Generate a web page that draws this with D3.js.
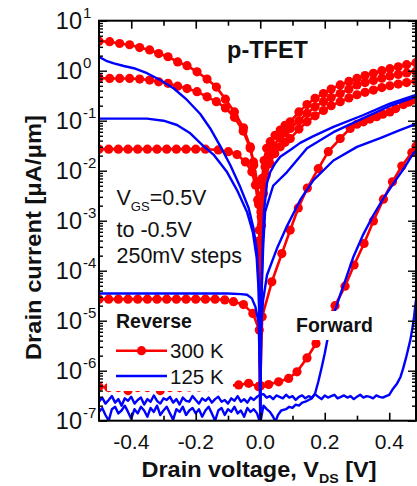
<!DOCTYPE html>
<html><head><meta charset="utf-8">
<script src="https://cdn.jsdelivr.net/npm/d3@7"></script>
<style>
html,body{margin:0;padding:0;background:#fff;}
svg{display:block;font-family:"Liberation Sans",Arial,sans-serif;}
</style></head><body>
<svg id="chart" width="417" height="486"></svg>
<script>
// ---------- axis ticks / labels ----------
const xMajorTicks = [-0.4, -0.2, 0, 0.2, 0.4];
const xMinorTicks = [-0.3, -0.1, 0.1, 0.3];
const xTickLabels = ["-0.4", "-0.2", "0.0", "0.2", "0.4"];
const yExponents = [1, 0, -1, -2, -3, -4, -5, -6, -7];

// ---------- 300 K (red, markers): [V_DS (V), I_D (uA/um)] ----------
const red1 = [[-0.50,3.9],[-0.467,3.8],[-0.436,3.5],[-0.405,3.3],[-0.374,2.9],[-0.343,2.6],[-0.315,2.2],[-0.286,1.9],[-0.256,1.5],[-0.227,1.26],[-0.196,0.95],[-0.165,0.68],[-0.136,0.47],[-0.108,0.27],[-0.080,0.15],[-0.052,0.072],[-0.031,0.030],[-0.021,0.015],[-0.010,6.0e-3],[-0.005,2.4e-3],[-0.002,4e-4],[0,5e-7],[0.002,1.5e-3],[0.006,7e-3],[0.012,0.016],[0.02,0.028],[0.031,0.038],[0.046,0.051],[0.062,0.065],[0.077,0.081],[0.093,0.095],[0.12,0.15],[0.145,0.21],[0.17,0.28],[0.196,0.35],[0.22,0.43],[0.248,0.52],[0.275,0.61],[0.30,0.70],[0.325,0.80],[0.351,0.89],[0.377,1.0],[0.402,1.1],[0.428,1.2],[0.454,1.32],[0.483,1.45]];
const red2 = [[-0.50,0.71],[-0.467,0.70],[-0.436,0.70],[-0.405,0.70],[-0.374,0.68],[-0.343,0.65],[-0.315,0.60],[-0.286,0.56],[-0.256,0.49],[-0.227,0.44],[-0.196,0.38],[-0.165,0.30],[-0.136,0.24],[-0.108,0.18],[-0.080,0.117],[-0.053,0.062],[-0.031,0.028],[-0.020,0.013],[-0.011,5.2e-3],[-0.005,2.1e-3],[-0.002,3e-4],[0,5e-7],[0.003,1.2e-3],[0.008,5e-3],[0.015,0.012],[0.025,0.020],[0.04,0.031],[0.06,0.045],[0.077,0.057],[0.093,0.070],[0.12,0.10],[0.145,0.14],[0.17,0.19],[0.196,0.24],[0.22,0.29],[0.248,0.35],[0.275,0.43],[0.30,0.52],[0.325,0.58],[0.351,0.64],[0.377,0.71],[0.402,0.78],[0.428,0.84],[0.454,0.90],[0.483,0.97]];
const red3 = [[-0.50,0.027],[-0.47,0.027],[-0.44,0.027],[-0.41,0.027],[-0.38,0.027],[-0.35,0.027],[-0.32,0.027],[-0.29,0.027],[-0.26,0.027],[-0.23,0.027],[-0.20,0.027],[-0.17,0.027],[-0.13,0.026],[-0.099,0.024],[-0.072,0.021],[-0.046,0.015],[-0.026,9.5e-3],[-0.015,5.2e-3],[-0.008,2.6e-3],[-0.003,6.5e-4],[0,5e-7],[0.004,8e-4],[0.01,3.5e-3],[0.018,8e-3],[0.03,0.014],[0.045,0.022],[0.062,0.030],[0.077,0.037],[0.093,0.044],[0.12,0.068],[0.145,0.095],[0.17,0.125],[0.196,0.16],[0.22,0.20],[0.248,0.24],[0.275,0.285],[0.30,0.33],[0.325,0.37],[0.351,0.41],[0.377,0.46],[0.402,0.50],[0.428,0.54],[0.454,0.58],[0.483,0.62]];
const red4 = [[-0.50,2.7e-5],[-0.47,2.7e-5],[-0.44,2.7e-5],[-0.41,2.7e-5],[-0.38,2.7e-5],[-0.35,2.7e-5],[-0.32,2.7e-5],[-0.29,2.7e-5],[-0.26,2.7e-5],[-0.23,2.7e-5],[-0.20,2.7e-5],[-0.17,2.7e-5],[-0.14,2.7e-5],[-0.11,2.6e-5],[-0.083,2.4e-5],[-0.052,2.1e-5],[-0.023,1.4e-5],[-0.003,6.5e-6],[0,5e-7],[0.006,1.2e-5],[0.036,6.0e-5],[0.067,2.2e-4],[0.093,6.5e-4],[0.118,1.8e-3],[0.146,4.5e-3],[0.18,0.011],[0.211,0.024],[0.248,0.044],[0.279,0.070],[0.30,0.085],[0.32,0.095],[0.34,0.108],[0.361,0.12],[0.38,0.135],[0.402,0.15],[0.42,0.175],[0.444,0.21],[0.46,0.235],[0.475,0.26],[0.483,0.27]];
const red5 = [[-0.50,4.8e-7],[-0.47,4.6e-7],[-0.44,4.6e-7],[-0.41,4.0e-7],[-0.38,4.6e-7],[-0.35,4.6e-7],[-0.31,4.0e-7],[-0.28,4.6e-7],[-0.25,4.6e-7],[-0.22,4.7e-7],[-0.19,4.7e-7],[-0.16,4.8e-7],[-0.13,4.8e-7],[-0.10,5.0e-7],[-0.067,5.2e-7],[-0.036,5.6e-7],[-0.005,4.8e-7],[0.026,5.3e-7],[0.057,6.0e-7],[0.088,7.0e-7],[0.114,9.5e-7],[0.145,1.8e-6],[0.173,3.5e-6],[0.20,8e-6],[0.232,2.0e-5],[0.263,4.9e-5],[0.291,1.3e-4],[0.322,3.5e-4],[0.351,9.9e-4],[0.382,2.7e-3],[0.41,6.0e-3],[0.439,0.0124],[0.47,0.023],[0.483,0.031]];

// ---------- 125 K (blue, lines) ----------
const blue1 = [[-0.50,1.9],[-0.475,1.55],[-0.454,1.4],[-0.423,1.24],[-0.392,1.12],[-0.351,0.89],[-0.31,0.65],[-0.268,0.44],[-0.227,0.26],[-0.186,0.136],[-0.155,0.070],[-0.124,0.031],[-0.093,0.013],[-0.062,4.7e-3],[-0.036,1.8e-3],[-0.021,7.1e-4],[-0.010,2.4e-4],[-0.005,5.7e-5],[-0.0015,6.5e-6],[0,8e-8],[0.003,2.6e-5],[0.008,4.1e-4],[0.012,1.6e-3],[0.021,5.7e-3],[0.031,9.4e-3],[0.046,0.014],[0.062,0.019],[0.093,0.026],[0.124,0.036],[0.165,0.049],[0.227,0.075],[0.32,0.13],[0.402,0.22],[0.483,0.33]];
const blue2 = [[-0.50,0.11],[-0.42,0.11],[-0.351,0.11],[-0.30,0.10],[-0.258,0.082],[-0.217,0.056],[-0.176,0.031],[-0.145,0.021],[-0.103,9.4e-3],[-0.072,4.1e-3],[-0.041,1.5e-3],[-0.023,5.9e-4],[-0.011,1.8e-4],[-0.005,4.1e-5],[-0.0012,4.1e-6],[0,8e-8],[0.004,3e-5],[0.009,3e-4],[0.015,1.5e-3],[0.04,5e-3],[0.083,9.4e-3],[0.145,0.028],[0.227,0.059],[0.32,0.113],[0.402,0.197],[0.483,0.30]];
const blue3 = [[-0.50,3.5e-5],[-0.40,3.5e-5],[-0.30,3.5e-5],[-0.20,3.5e-5],[-0.10,3.5e-5],[-0.06,3.4e-5],[-0.041,3.3e-5],[-0.026,2.8e-5],[-0.015,1.9e-5],[-0.005,9e-6],[-0.001,1e-6],[0,8e-8],[0.0015,6.5e-6],[0.009,2.6e-5],[0.021,8.2e-5],[0.052,2.8e-4],[0.083,7.8e-4],[0.124,2.6e-3],[0.165,6.5e-3],[0.227,0.016],[0.30,0.030],[0.372,0.045],[0.433,0.065],[0.483,0.086]];
// noise-floor curves
const noiseV = [-0.50,-0.49,-0.48,-0.47,-0.46,-0.45,-0.44,-0.43,-0.42,-0.41,-0.40,-0.39,-0.38,-0.37,-0.36,-0.35,-0.34,-0.33,-0.32,-0.31,-0.30,-0.29,-0.28,-0.27,-0.26,-0.25,-0.24,-0.23,-0.22,-0.21,-0.20,-0.19,-0.18,-0.17,-0.16,-0.15,-0.14,-0.13,-0.12,-0.11,-0.10,-0.09,-0.08,-0.07,-0.06,-0.05,-0.04,-0.03,-0.02,-0.01];
const blue4Rev = [1.5e-7,1.8e-7,1.3e-7,1.0e-7,1.7e-7,1.9e-7,1.4e-7,1.6e-7,2.0e-7,1.5e-7,1.1e-7,1.7e-7,1.4e-7,1.9e-7,1.6e-7,1.2e-7,1.8e-7,1.5e-7,2.0e-7,1.3e-7,1.6e-7,1.9e-7,1.4e-7,1.05e-7,1.7e-7,1.5e-7,1.9e-7,1.3e-7,1.6e-7,1.8e-7,1.4e-7,1.7e-7,1.2e-7,1.6e-7,1.9e-7,1.4e-7,1.0e-7,1.6e-7,1.8e-7,1.3e-7,1.7e-7,1.5e-7,1.9e-7,1.4e-7,1.6e-7,1.2e-7,1.8e-7,1.5e-7,1.7e-7,1.4e-7];
const blue4Fwd = [[0,9e-8],[0.01,2.0e-7],[0.02,1.7e-7],[0.03,1.5e-7],[0.04,1.2e-7],[0.047,9.5e-8],[0.055,1.3e-7],[0.065,1.6e-7],[0.08,1.7e-7],[0.09,1.9e-7],[0.10,1.8e-7],[0.11,2.1e-7],[0.12,2.0e-7],[0.13,2.3e-7],[0.14,2.4e-7],[0.15,2.6e-7],[0.16,2.8e-7],[0.17,3.5e-7],[0.18,6e-7],[0.191,1.2e-6],[0.20,2.2e-6],[0.207,3.8e-6],[0.22,8e-6],[0.232,1.6e-5],[0.248,3.3e-5],[0.263,6.2e-5],[0.289,1.9e-4],[0.320,5.4e-4],[0.351,1.3e-3],[0.382,2.8e-3],[0.418,6.2e-3],[0.449,0.012],[0.474,0.022],[0.483,0.025]];
const blue5Rev = [2.4e-7,2.9e-7,2.2e-7,2.6e-7,3.1e-7,2.3e-7,2.7e-7,2.0e-7,2.8e-7,2.5e-7,3.0e-7,2.2e-7,2.6e-7,2.9e-7,2.1e-7,2.7e-7,2.4e-7,3.2e-7,2.5e-7,2.2e-7,2.8e-7,2.6e-7,3.0e-7,2.3e-7,2.7e-7,2.1e-7,2.9e-7,2.5e-7,2.4e-7,3.1e-7,2.6e-7,2.2e-7,2.8e-7,2.5e-7,2.9e-7,2.3e-7,2.7e-7,3.0e-7,2.4e-7,2.6e-7,2.2e-7,2.8e-7,2.5e-7,3.1e-7,2.4e-7,2.7e-7,2.3e-7,2.9e-7,2.6e-7,3.0e-7];
const blue5Fwd = [[0,3.3e-7],[0.01,3.4e-7],[0.02,2.9e-7],[0.03,3.1e-7],[0.04,2.7e-7],[0.05,3.2e-7],[0.06,3.0e-7],[0.07,2.8e-7],[0.08,3.3e-7],[0.09,2.9e-7],[0.10,3.1e-7],[0.11,2.6e-7],[0.12,3.0e-7],[0.13,3.2e-7],[0.14,2.8e-7],[0.15,3.1e-7],[0.16,2.9e-7],[0.17,3.4e-7],[0.18,3.0e-7],[0.19,2.7e-7],[0.20,3.2e-7],[0.21,2.9e-7],[0.22,3.1e-7],[0.23,3.3e-7],[0.24,2.8e-7],[0.25,3.0e-7],[0.26,3.2e-7],[0.27,2.9e-7],[0.28,3.1e-7],[0.29,2.7e-7],[0.30,3.0e-7],[0.31,3.3e-7],[0.32,2.9e-7],[0.33,3.1e-7],[0.34,3.0e-7],[0.35,2.8e-7],[0.36,3.2e-7],[0.37,3.0e-7],[0.38,2.9e-7],[0.39,3.1e-7],[0.40,3.3e-7],[0.41,4.2e-7],[0.424,5.5e-7],[0.435,7.5e-7],[0.443,1.1e-6],[0.452,1.8e-6],[0.458,2.6e-6],[0.465,4.0e-6],[0.471,6.5e-6],[0.477,1.2e-5],[0.483,2.6e-5]];

const redSeries = [red1, red2, red3, red4, red5];
const blue4 = noiseV.map((v, i) => [v, blue4Rev[i]]).concat(blue4Fwd);
const blue5 = noiseV.map((v, i) => [v, blue5Rev[i]]).concat(blue5Fwd);
const blueSeries = [blue1, blue2, blue3, blue4, blue5];

// ---------- layout ----------
const RED = "#ff0000", BLUE = "#0000ff", INK = "#111";
const svg = d3.select("#chart");
const L = 99, R = 416, T = 20.7, B = 420.7;
const x = d3.scaleLinear().domain([-0.5, 0.483]).range([L, R]);
const y = d3.scaleLog().domain([1e-7, 10]).range([B, T]);

svg.append("defs").append("clipPath").attr("id", "plotclip")
  .append("rect").attr("x", L).attr("y", T).attr("width", R - L).attr("height", B - T);

const line = d3.line().x(d => x(d[0])).y(d => y(Math.max(d[1], 3e-8)));
const plot = svg.append("g").attr("clip-path", "url(#plotclip)");

redSeries.forEach(s => {
  plot.append("path").attr("d", line(s)).attr("fill", "none")
    .attr("stroke", RED).attr("stroke-width", 2.6).attr("stroke-linejoin", "round");
  plot.append("g").selectAll("circle").data(s).join("circle")
    .attr("cx", d => x(d[0])).attr("cy", d => y(d[1])).attr("r", 4.6).attr("fill", RED);
});
blueSeries.forEach(s => {
  plot.append("path").attr("d", line(s)).attr("fill", "none")
    .attr("stroke", BLUE).attr("stroke-width", 2.4).attr("stroke-linejoin", "round");
});

// white label boxes over curves
svg.append("rect").attr("x", 107).attr("y", 306).attr("width", 126).attr("height", 85).attr("fill", "#fff");
svg.append("rect").attr("x", 293).attr("y", 311).attr("width", 84).attr("height", 29).attr("fill", "#fff");

// ---------- axes ----------
svg.append("rect").attr("x", L).attr("y", T).attr("width", R - L).attr("height", B - T)
  .attr("fill", "none").attr("stroke", "#000").attr("stroke-width", 2);

[[d3.axisBottom(x).tickValues(xMajorTicks).tickSize(-8), B], [d3.axisBottom(x).tickValues(xMinorTicks).tickSize(-5), B],
 [d3.axisTop(x).tickValues(xMajorTicks).tickSize(-8), T], [d3.axisTop(x).tickValues(xMinorTicks).tickSize(-5), T]]
 .forEach(([a, yy]) => {
  const g = svg.append("g").attr("transform", `translate(0,${yy})`).call(a.tickFormat(""));
  g.select(".domain").remove();
  g.selectAll("line").attr("stroke", "#000").attr("stroke-width", 1.6);
});

const majorY = yExponents.map(e => Math.pow(10, e));
const minorY = [];
yExponents.slice(1).forEach(e => { for (let k = 2; k <= 9; k++) minorY.push(k * Math.pow(10, e)); });
[[d3.axisLeft(y).tickValues(majorY).tickSize(-8), L], [d3.axisLeft(y).tickValues(minorY).tickSize(-4), L],
 [d3.axisRight(y).tickValues(majorY).tickSize(-8), R], [d3.axisRight(y).tickValues(minorY).tickSize(-4), R]]
 .forEach(([a, xx]) => {
  const g = svg.append("g").attr("transform", `translate(${xx},0)`).call(a.tickFormat(""));
  g.select(".domain").remove();
  g.selectAll("line").attr("stroke", "#000").attr("stroke-width", 1.4);
});

// x tick labels
svg.append("g").selectAll("text").data(xMajorTicks).join("text")
  .attr("x", d => x(d)).attr("y", 448.5).attr("text-anchor", "middle")
  .attr("font-size", 21).attr("fill", INK).text((d, i) => xTickLabels[i]);

// y tick labels 10^n
const yl = svg.append("g").attr("fill", INK);
yExponents.forEach(e => {
  const yy = y(Math.pow(10, e));
  yl.append("text").attr("x", 82).attr("y", yy + 8.5).attr("text-anchor", "end").attr("font-size", 23.5).text("10");
  yl.append("text").attr("x", 83).attr("y", yy - 3).attr("font-size", 15).text(String(e));
});

// axis titles
const xt = svg.append("text").attr("x", 141.5).attr("y", 477)
  .attr("font-size", 21.5).attr("font-weight", "bold").attr("fill", INK)
  .attr("textLength", 235).attr("lengthAdjust", "spacingAndGlyphs");
xt.append("tspan").text("Drain voltage, V");
xt.append("tspan").attr("font-size", 13).attr("dy", 6).text("DS");
xt.append("tspan").attr("dy", -6).text(" [V]");

svg.append("text").attr("transform", "translate(41,360) rotate(-90)")
  .attr("font-size", 21.5).attr("font-weight", "bold").attr("fill", INK)
  .attr("textLength", 245).attr("lengthAdjust", "spacingAndGlyphs").text("Drain current [μA/μm]");

// title
svg.append("text").attr("x", 267.5).attr("y", 57.5).attr("text-anchor", "middle")
  .attr("font-size", 23.5).attr("font-weight", "bold").attr("fill", INK).text("p-TFET");

// VGS annotation
const vg = svg.append("text").attr("x", 116.5).attr("y", 205).attr("font-size", 21.5).attr("fill", INK);
vg.append("tspan").text("V");
vg.append("tspan").attr("font-size", 13).attr("dy", 6).text("GS");
vg.append("tspan").attr("dy", -6).text("=0.5V");
svg.append("text").attr("x", 116.5).attr("y", 236.5).attr("font-size", 21.5).attr("fill", INK).text("to -0.5V");
svg.append("text").attr("x", 116.5).attr("y", 263).attr("font-size", 21.5).attr("fill", INK).text("250mV steps");

// legend
svg.append("text").attr("x", 116).attr("y", 328).attr("font-size", 19.5).attr("font-weight", "bold").attr("fill", INK).text("Reverse");
svg.append("line").attr("x1", 116).attr("x2", 167).attr("y1", 350.7).attr("y2", 350.7).attr("stroke", RED).attr("stroke-width", 2.6);
svg.append("circle").attr("cx", 141.5).attr("cy", 350.7).attr("r", 4.6).attr("fill", RED);
svg.append("text").attr("x", 170).attr("y", 357.5).attr("font-size", 20.5).attr("fill", INK).text("300 K");
svg.append("line").attr("x1", 116).attr("x2", 167).attr("y1", 376).attr("y2", 376).attr("stroke", BLUE).attr("stroke-width", 2.4);
svg.append("text").attr("x", 170).attr("y", 383.5).attr("font-size", 20.5).attr("fill", INK).text("125 K");

svg.append("text").attr("x", 296).attr("y", 332).attr("font-size", 19.5).attr("font-weight", "bold").attr("fill", INK).text("Forward");
</script>
</body></html>
